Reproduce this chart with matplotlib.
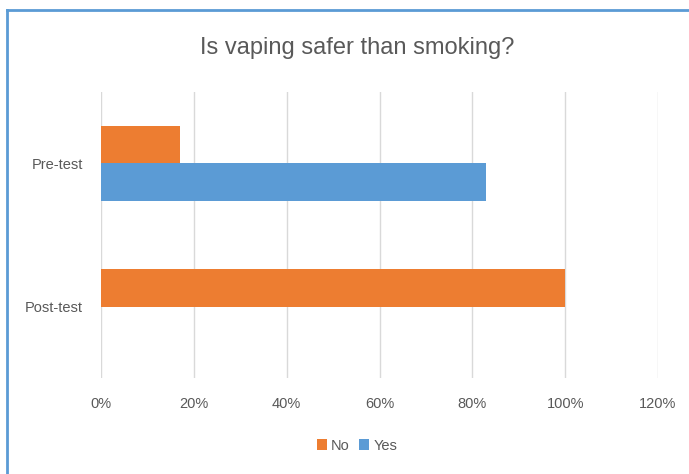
import matplotlib

matplotlib.use("Agg")
import matplotlib.pyplot as plt
from matplotlib.lines import Line2D
from matplotlib.ticker import FuncFormatter

categories = ["Pre-test", "Post-test"]
no_vals = [17, 100]
yes_vals = [83, 0]
x_ticks = [0, 20, 40, 60, 80, 100, 120]

ORANGE = "#ed7d31"
BLUE = "#5b9bd5"
TXT = "#595959"

plt.rcParams["font.family"] = ["Liberation Sans", "DejaVu Sans"]

fig = plt.figure(figsize=(6.89, 4.74), dpi=100)
ax = fig.add_axes([0.1466, 0.2025, 0.955 - 0.1466, 0.806 - 0.2025])

h = 0.26
ys = list(range(len(categories)))
ax.barh([y - h / 2 for y in ys], no_vals, height=h, color=ORANGE, label="No", zorder=3)
ax.barh([y + h / 2 for y in ys], yes_vals, height=h, color=BLUE, label="Yes", zorder=3)

ax.set_ylim(1.5, -0.5)
ax.set_xlim(0, 120)
ax.set_yticks(ys)
ax.set_yticklabels(categories)
ax.set_xticks(x_ticks)
ax.xaxis.set_major_formatter(FuncFormatter(lambda v, p: f"{v:.0f}%"))
ax.tick_params(axis="both", length=0, labelsize=10.5, colors=TXT)
ax.tick_params(axis="x", pad=14)
ax.tick_params(axis="y", pad=13)
ax.grid(axis="x", color="#d9d9d9", linewidth=1, zorder=0)
for s in ax.spines.values():
    s.set_visible(False)

fig.text(0.518, 0.898, "Is vaping safer than smoking?", ha="center", va="center",
         fontsize=17, color=TXT)

leg = fig.legend(loc="center", bbox_to_anchor=(0.518, 0.06), ncol=2, frameon=False,
                 handlelength=0.7, handleheight=0.7, handletextpad=0.3,
                 columnspacing=0.6, fontsize=10.5)
for t in leg.get_texts():
    t.set_color(TXT)

# chart-area border (top and left visible in the crop)
fig.add_artist(Line2D([7 / 689, 1], [1 - 10 / 474, 1 - 10 / 474], transform=fig.transFigure,
                      color=BLUE, linewidth=2))
fig.add_artist(Line2D([7 / 689, 7 / 689], [0, 1 - 10 / 474], transform=fig.transFigure,
                      color=BLUE, linewidth=2))

fig.savefig("out.png", dpi=100)
